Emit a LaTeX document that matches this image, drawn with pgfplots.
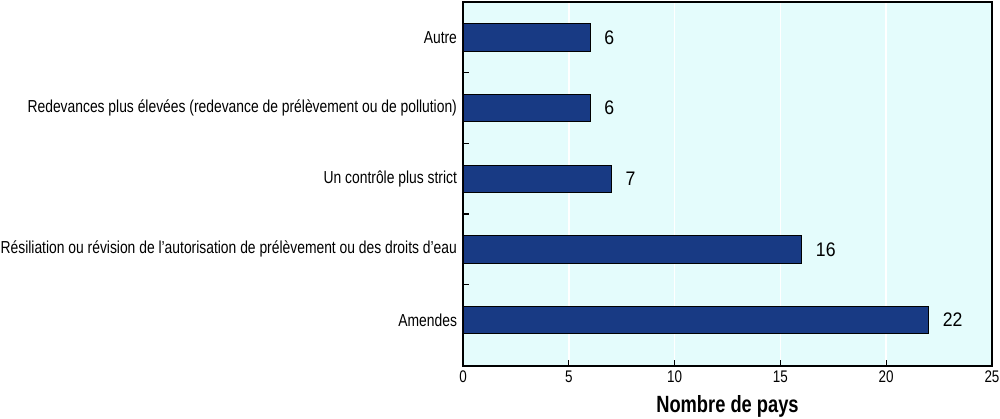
\documentclass[border=0pt]{standalone}
\usepackage{fontspec}
\setmainfont{Liberation Sans}[FakeStretch=0.8]
\newfontfamily\numfont{Liberation Sans}[FakeStretch=0.9]
\newfontfamily\labfont{Liberation Sans}[FakeStretch=0.78]
\usepackage{pgfplots}
\pgfplotsset{compat=1.18}
\definecolor{bgc}{RGB}{228,252,252}
\definecolor{barc}{RGB}{24,58,132}
\begin{document}
\begin{tikzpicture}
\useasboundingbox (-347.25pt,-39pt) rectangle (402.75pt,274.5pt);
\begin{axis}[
  at={(0pt,0pt)}, anchor=south west,
  scale only axis, width=396.75pt, height=273pt,
  xmin=0, xmax=25, ymin=-0.65, ymax=4.5,
  xbar, bar width=20.5pt,
  axis background/.style={fill=bgc},
  axis line style={black, line width=1.1pt},
  xtick={0,5,...,25},
  xtick pos=bottom, ytick pos=left,
  xticklabel style={font=\fontsize{12.6}{12.6}\selectfont},
  /pgf/number format/assume math mode=true,
  xmajorgrids, major grid style={white, line width=1.1pt},
  tick align=inside,
  major tick length=4.5pt,
  tick style={black, line width=0.9pt},
  ytick={0.5,1.5,2.5,3.5}, yticklabels={},
  extra y ticks={0,1,2,3,4},
  extra y tick labels={Amendes, Résiliation ou révision de l’autorisation de prélèvement ou des droits d’eau, Un contrôle plus strict, Redevances plus élevées (redevance de prélèvement ou de pollution), Autre},
  extra y tick style={major tick length=0pt, yticklabel style={font=\fontsize{13}{13}\selectfont, xshift=-1pt}},
  xlabel={\labfont\bfseries Nombre de pays},
  xlabel style={font=\fontsize{17.6}{17.6}\selectfont, yshift=-3pt},
  nodes near coords,
  every node near coord/.append style={font=\numfont\fontsize{14.7}{15}\selectfont, black, inner sep=0pt, xshift=10.5pt},
]
\addplot[fill=barc, draw=black, line width=0.6pt] coordinates {(22,0) (16,1) (7,2) (6,3) (6,4)};
\end{axis}
\end{tikzpicture}
\end{document}
